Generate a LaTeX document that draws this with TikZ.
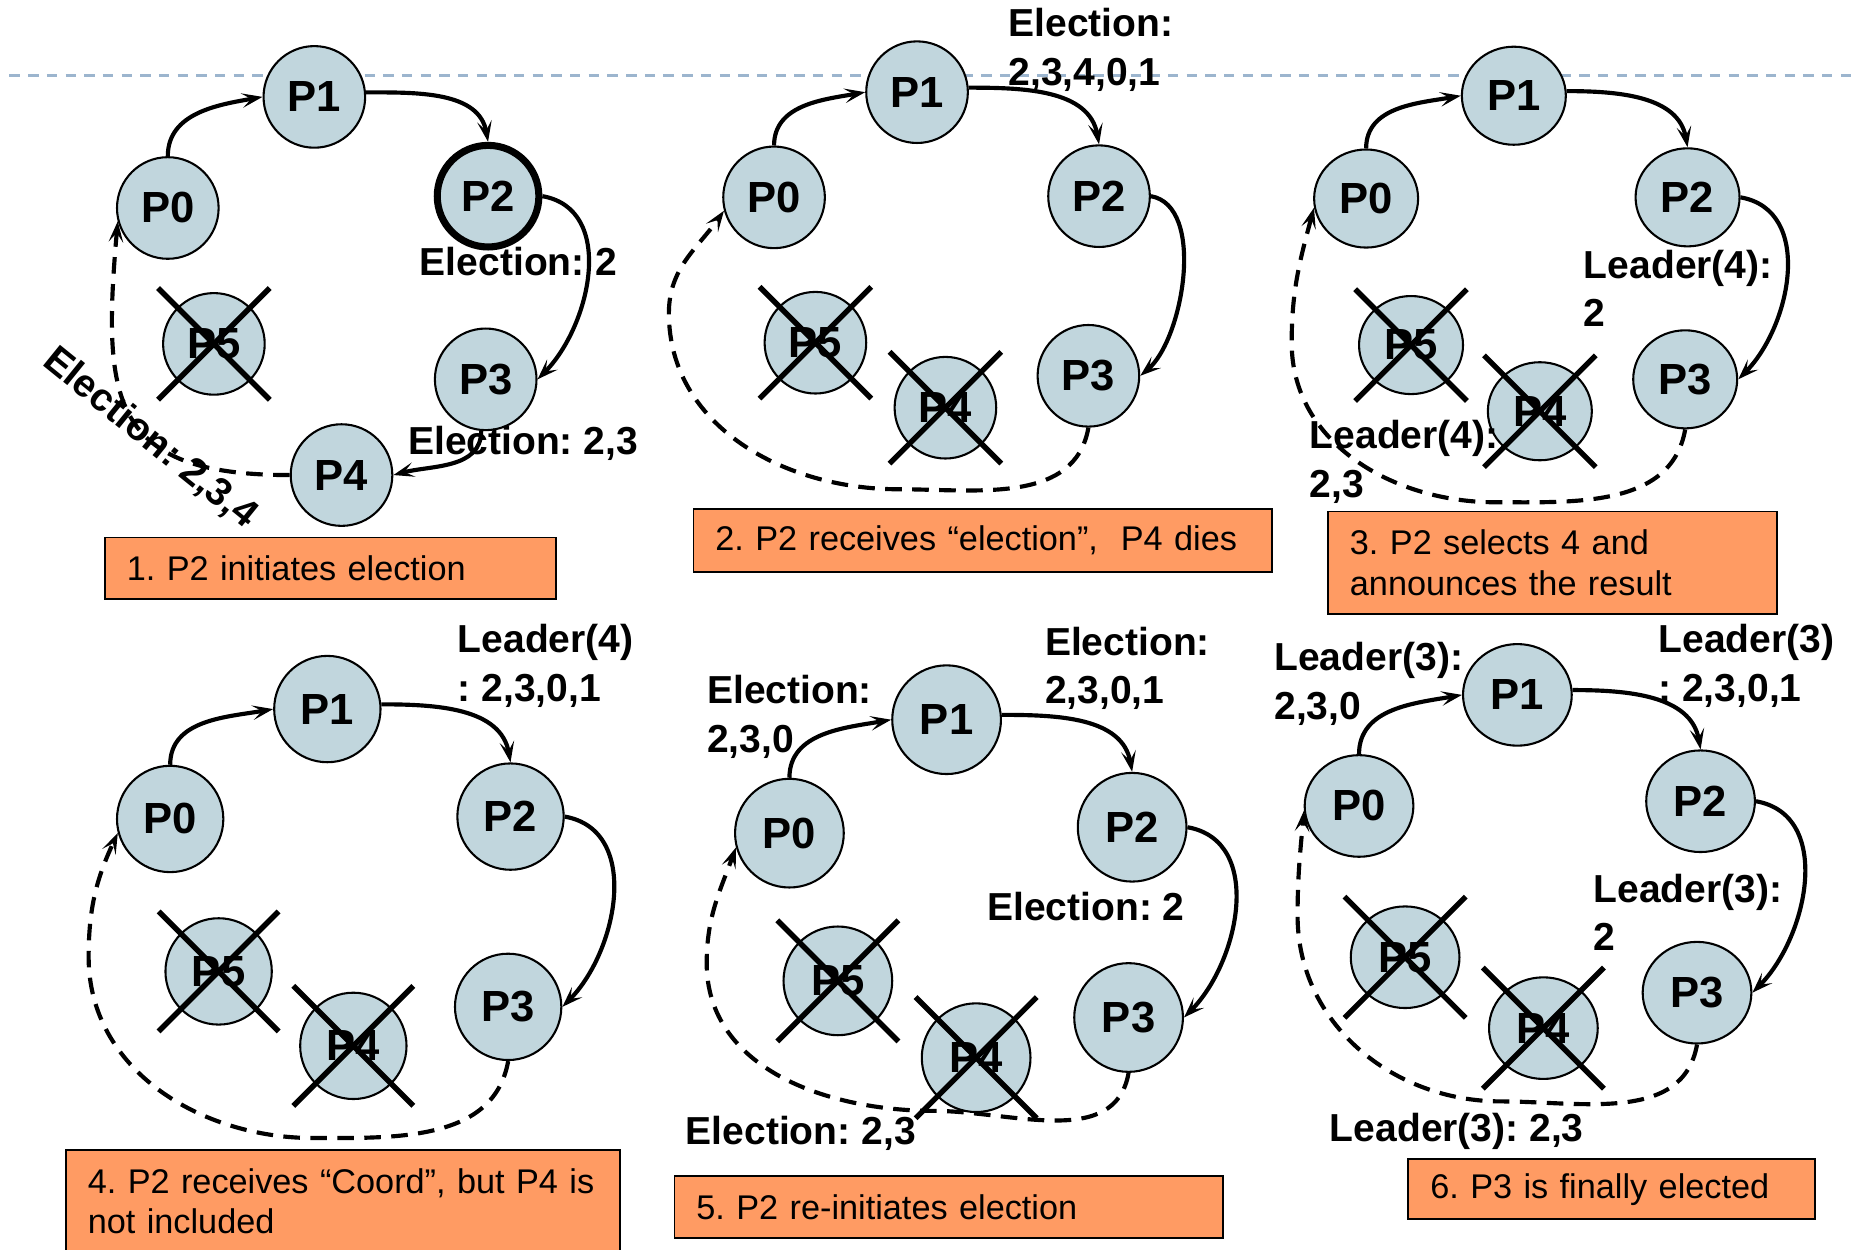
\documentclass[tikz,border=0pt]{standalone}
\usepackage{fontspec}
\setmainfont{Liberation Sans}
\frenchspacing
\usetikzlibrary{arrows.meta,shapes.geometric,shapes.misc}
\definecolor{procfill}{HTML}{C1D6DD}
\definecolor{capfill}{HTML}{FF9B63}
\definecolor{guideblue}{HTML}{9CB5CE}
\tikzset{
  proc/.style={ellipse, draw=black, line width=1pt, fill=procfill, inner sep=0pt,
    minimum width=#1, minimum height=#1, font=\bfseries\fontsize{21}{25}\selectfont},
  proc/.default=1.72cm,
  procoval/.style 2 args={proc, minimum width=#1, minimum height=#2},
  deadmark/.style={cross out, draw=black, line width=2.6pt, inner sep=0pt, minimum size=#1},
  deadmark/.default=1.8cm,
  msg/.style={line width=2pt, -{Stealth[length=10pt,width=7pt,inset=4.5pt]}},
  msgdash/.style={msg, dash pattern=on 8pt off 5pt},
  lbl/.style={inner sep=0pt, align=left, font=\bfseries\fontsize{18.8}{23.5}\selectfont},
  capbox/.style={draw=black, line width=0.9pt, fill=capfill, anchor=north west, align=left,
    inner xsep=0.37cm, inner ysep=0.1cm, font=\fontsize{16.5}{19.5}\selectfont},
  guide/.style={guideblue, line width=1.1pt, dash pattern=on 5pt off 4pt}
}
\begin{document}
\begin{tikzpicture}[x=0.02cm, y=-0.02cm]
\useasboundingbox (0,0) rectangle (1568,1057);
\draw[guide] (8,64) -- (1568,64);

\node[proc] (s1p1) at (266,82) {P1};
\node[proc] (s1p0) at (142,176) {P0};
\node[proc, line width=3.4pt] (s1p2) at (413,166) {P2};
\node[proc] (s1p5) at (181,291) {P5};
\node[proc] (s1p3) at (411,321) {P3};
\node[proc] (s1p4) at (289,402) {P4};
\draw[msg] (s1p0.north) to[out=90,in=190] (s1p1.west);
\draw[msg] (s1p1.5) to[out=0,in=100] (s1p2.north);
\draw[msg] (s1p2.east) to[out=-10,in=45,looseness=1.05] (s1p3.east);
\draw[msg] (s1p3.265) to[out=-90,in=15] (s1p4.east);
\draw[msgdash] (s1p4.west) to[out=180,in=-95,looseness=1.5] (s1p0.195);
\node[deadmark] (s1x5) at (s1p5) {};
\node[lbl, anchor=west] (s1m1) at (355,221) {Election: 2};
\node[lbl, anchor=west] (s1m2) at (345,375) {Election: 2,3};
\node[lbl, rotate=-39] (s1m3) at (127,371) {Election: 2,3,4};
\node[capbox, text width=6.9cm, minimum height=1.04cm] (s1cap) at (88,454) {1. P2 initiates election};

\node[proc] (s2p1) at (776,78) {P1};
\node[proc] (s2p0) at (655,167) {P0};
\node[proc] (s2p2) at (930,166) {P2};
\node[proc] (s2p5) at (690,290) {P5};
\node[proc] (s2p4) at (800,345) {P4};
\node[proc] (s2p3) at (921,318) {P3};
\draw[msg] (s2p0.north) to[out=90,in=190] (s2p1.west);
\draw[msg] (s2p1.5) to[out=0,in=100] (s2p2.north);
\draw[msg] (s2p2.east) to[out=-10,in=40,looseness=0.8] (s2p3.east);
\draw[msgdash] (s2p3.south) to[out=-100,in=0] (760,414) to[out=180,in=-90] (566,265) to[out=90,in=-125] (s2p0.195);
\node[deadmark] (s2x5) at (s2p5) {};
\node[deadmark] (s2x4) at (s2p4) {};
\node[lbl, anchor=north west] (s2m1) at (853,7) {Election:\\2,3,4,0,1};
\node[capbox, text width=9.06cm, minimum height=1.06cm] (s2cap) at (586,430) {2. P2 receives “election”,\ \ P4 dies};

\node[procoval={1.76cm}{1.66cm}] (s3p1) at (1281,81) {P1};
\node[procoval={1.76cm}{1.66cm}] (s3p0) at (1156,168) {P0};
\node[procoval={1.76cm}{1.66cm}] (s3p2) at (1428,167) {P2};
\node[procoval={1.76cm}{1.66cm}] (s3p5) at (1194,292) {P5};
\node[procoval={1.76cm}{1.66cm}] (s3p4) at (1303,348) {P4};
\node[procoval={1.76cm}{1.66cm}] (s3p3) at (1426,321) {P3};
\draw[msg] (s3p0.north) to[out=90,in=190] (s3p1.west);
\draw[msg] (s3p1.5) to[out=0,in=100] (s3p2.north);
\draw[msg] (s3p2.east) to[out=-10,in=45,looseness=1.05] (s3p3.east);
\draw[msgdash] (s3p3.south) to[out=-100,in=0] (1265,425) to[out=180,in=-90] (1093,290) to[out=90,in=-105] (s3p0.190);
\node[deadmark] (s3x5) at (s3p5) {};
\node[deadmark] (s3x4) at (s3p4) {};
\node[lbl, anchor=north west] (s3m1) at (1340,211) {Leader(4):\\2};
\node[lbl, anchor=north west] (s3m2) at (1108,355) {Leader(4):\\2,3};
\node[capbox, text width=6.86cm, minimum height=1.74cm] (s3cap) at (1123,432) {3. P2 selects 4 and\\announces the result};

\node[proc=1.8cm] (s4p1) at (277,600) {P1};
\node[proc=1.8cm] (s4p0) at (144,693) {P0};
\node[proc=1.8cm] (s4p2) at (432,691) {P2};
\node[proc=1.8cm] (s4p5) at (185,822) {P5};
\node[proc=1.8cm] (s4p4) at (299,885) {P4};
\node[proc=1.8cm] (s4p3) at (430,852) {P3};
\draw[msg] (s4p0.north) to[out=90,in=190] (s4p1.west);
\draw[msg] (s4p1.5) to[out=0,in=100] (s4p2.north);
\draw[msg] (s4p2.east) to[out=-10,in=45,looseness=1.05] (s4p3.east);
\draw[msgdash] (s4p3.south) to[out=-100,in=0] (265,963) to[out=180,in=-90] (75,810) to[out=90,in=-115] (s4p0.195);
\node[deadmark=1.94cm] (s4x5) at (s4p5) {};
\node[deadmark=1.94cm] (s4x4) at (s4p4) {};
\node[lbl, anchor=north west] (s4m1) at (387,528) {Leader(4)\\: 2,3,0,1};
\node[capbox, text width=8.64cm, minimum height=1.74cm] (s4cap) at (55,972) {4. P2 receives “Coord”, but P4 is\\not included};

\node[proc=1.84cm] (s5p1) at (801,609) {P1};
\node[proc=1.84cm] (s5p0) at (668,705) {P0};
\node[proc=1.84cm] (s5p2) at (958,700) {P2};
\node[proc=1.84cm] (s5p5) at (709,830) {P5};
\node[proc=1.84cm] (s5p4) at (826,895) {P4};
\node[proc=1.84cm] (s5p3) at (955,861) {P3};
\draw[msg] (s5p0.north) to[out=90,in=190] (s5p1.west);
\draw[msg] (s5p1.5) to[out=0,in=100] (s5p2.north);
\draw[msg] (s5p2.east) to[out=-10,in=45,looseness=1.05] (s5p3.east);
\draw[msgdash] (s5p3.south) to[out=-100,in=0] (790,940) to[out=180,in=-90] (598,815) to[out=90,in=-110] (s5p0.195);
\node[deadmark=1.96cm] (s5x5) at (s5p5) {};
\node[deadmark=1.96cm] (s5x4) at (s5p4) {};
\node[lbl, anchor=north west] (s5m1) at (598,571) {Election:\\2,3,0};
\node[lbl, anchor=north west] (s5m2) at (884,530) {Election:\\2,3,0,1};
\node[lbl, anchor=west] (s5m3) at (835,767) {Election: 2};
\node[lbl, anchor=west] (s5m4) at (580,959) {Election: 2,3};
\node[capbox, text width=8.54cm, minimum height=1.06cm] (s5cap) at (570,994) {5. P2 re-initiates election};

\node[procoval={1.84cm}{1.72cm}] (s6p1) at (1284,588) {P1};
\node[procoval={1.84cm}{1.72cm}] (s6p0) at (1150,682) {P0};
\node[procoval={1.84cm}{1.72cm}] (s6p2) at (1439,678) {P2};
\node[procoval={1.84cm}{1.72cm}] (s6p5) at (1189,810) {P5};
\node[procoval={1.84cm}{1.72cm}] (s6p4) at (1306,870) {P4};
\node[procoval={1.84cm}{1.72cm}] (s6p3) at (1436,840) {P3};
\draw[msg] (s6p0.north) to[out=90,in=190] (s6p1.west);
\draw[msg] (s6p1.5) to[out=0,in=100] (s6p2.north);
\draw[msg] (s6p2.east) to[out=-10,in=45,looseness=1.05] (s6p3.east);
\draw[msgdash] (s6p3.south) to[out=-100,in=0] (1270,932) to[out=180,in=-90] (1098,775) to[out=90,in=-95] (s6p0.185);
\node[deadmark=1.96cm] (s6x5) at (s6p5) {};
\node[deadmark=1.96cm] (s6x4) at (s6p4) {};
\node[lbl, anchor=north west] (s6m1) at (1078,543) {Leader(3):\\2,3,0};
\node[lbl, anchor=north west] (s6m2) at (1403,528) {Leader(3)\\: 2,3,0,1};
\node[lbl, anchor=north west] (s6m3) at (1348,739) {Leader(3):\\2};
\node[lbl, anchor=west] (s6m4) at (1125,957) {Leader(3): 2,3};
\node[capbox, text width=6.14cm, minimum height=1.02cm] (s6cap) at (1191,980) {6. P3 is finally elected};
\end{tikzpicture}
\end{document}
